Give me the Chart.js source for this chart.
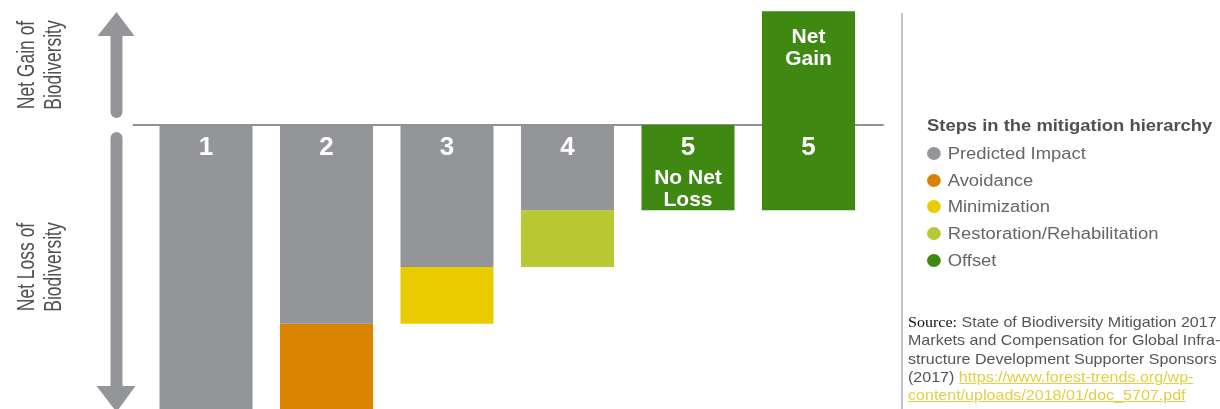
<!DOCTYPE html>
<html>
<head>
<meta charset="utf-8">
<title>Steps in the mitigation hierarchy</title>
<script src="https://cdn.jsdelivr.net/npm/chart.js@4"></script>
<style>
	body { margin: 0; background: #fff; font-family: "Liberation Sans", Arial, sans-serif; }
	#wrap { position: relative; width: 1220px; height: 409px; overflow: hidden; }
	#myChart { position: absolute; left: 0; top: 0; }
	.side { position: absolute; width: 200px; text-align: center; color: #505050;
		font-family: "Liberation Sans Narrow", "Arial Narrow", "Liberation Sans", sans-serif;
		font-size: 23px; line-height: 27px; transform: scaleY(0.76) rotate(-90deg); white-space: nowrap; }
	#sep { position: absolute; left: 901px; top: 13px; width: 2px; height: 400px; background: #c4c4c4; }
	#legend { position: absolute; left: 927px; top: 117px; color: #666; transform: scaleX(1.15); transform-origin: 0 0; }
	#legend .title { font-weight: bold; font-size: 16px; color: #505050; margin-bottom: 6px; white-space: nowrap; }
	#legend .item { font-size: 16px; height: 26.7px; line-height: 26.7px; white-space: nowrap; }
	#legend .dot { display: inline-block; width: 12px; height: 13px; border-radius: 50%; margin: 0 6px 0 0; vertical-align: -1px; }
	#source { position: absolute; left: 908px; top: 313px; font-size: 15px; line-height: 18.3px; color: #555; white-space: nowrap;
		transform: scaleX(1.07); transform-origin: 0 0; }
	#source b { font-family: "Liberation Serif", "Times New Roman", serif; font-weight: normal; color: #111; }
	#source a { color: #e3cf43; text-decoration: underline; }
</style>
</head>
<body>
<div id="wrap">
	<canvas id="myChart" width="1220" height="409"></canvas>
	<div class="side" style="left:-60px; top:38px;">Net Gain of<br>Biodiversity</div>
	<div class="side" style="left:-60px; top:240px;">Net Loss of<br>Biodiversity</div>
	<div id="sep"></div>
	<div id="legend"></div>
	<div id="source"><b>Source:</b> State of Biodiversity Mitigation 2017<br>Markets and Compensation for Global Infra-<br>structure Development Supporter Sponsors<br>(2017) <a href="#">https://www.forest-trends.org/wp-<br>content/uploads/2018/01/doc_5707.pdf</a></div>
</div>

<script>
var Module = (function () {

	//data
	var categories = ['1', '2', '3', '4', '5 No Net Loss', '5 Net Gain'];
	var stepNames = ['Predicted Impact', 'Avoidance', 'Minimization', 'Restoration/Rehabilitation', 'Offset'];
	var stepColors = ['#939598', '#d98300', '#e8cb00', '#b9c934', '#3f8912'];

	// floating bars, [bottom, top] in units of biodiversity (0 = no net loss)
	var predictedImpact = [[-10, 0], [-7, 0], [-5, 0], [-3, 0], null, null];
	var avoidance       = [null, [-10, -7], null, null, null, null];
	var minimization    = [null, null, [-7, -5], null, null, null];
	var restoration     = [null, null, null, [-5, -3], null, null];
	var offset          = [null, null, null, null, [-3, 0], [-3, 4]];

	//text written on the bars
	var barNumbers = ['1', '2', '3', '4', '5', '5'];
	var barNotes = [[], [], [], [], ['No Net', 'Loss'], ['Net', 'Gain']];

	var yMin = -10, yMax = 4.4;

	var $chart = document.getElementById('myChart');
	var ctx = $chart.getContext('2d');
	var myBarChart;

	//zero line + arrows on the left, drawn under the bars
	var decorPlugin = {
		id: 'decor',
		beforeDatasetsDraw: function (chart) {
			var c = chart.ctx, area = chart.chartArea;
			var y0 = chart.scales.y.getPixelForValue(0);
			c.save();
			c.strokeStyle = '#8f9194';
			c.lineWidth = 2;
			c.beginPath();
			c.moveTo(area.left - 13, y0);
			c.lineTo(area.right + 15, y0);
			c.stroke();

			// arrows
			var ax = 116.5;
			c.fillStyle = '#939598';
			c.strokeStyle = '#939598';
			c.lineWidth = 12;
			c.lineCap = 'round';
			c.beginPath();
			c.moveTo(ax, 34);
			c.lineTo(ax, y0 - 13);
			c.moveTo(ax, y0 + 13);
			c.lineTo(ax, 388);
			c.stroke();
			c.beginPath();
			c.moveTo(ax, 12);
			c.lineTo(ax + 18, 36);
			c.lineTo(ax - 19, 36);
			c.closePath();
			c.fill();
			c.beginPath();
			c.moveTo(ax, 412);
			c.lineTo(ax + 19, 386);
			c.lineTo(ax - 20, 386);
			c.closePath();
			c.fill();
			c.restore();
		},
		afterDatasetsDraw: function (chart) {
			var c = chart.ctx;
			var xs = chart.scales.x, ys = chart.scales.y;
			c.save();
			c.fillStyle = '#ffffff';
			c.textAlign = 'center';
			c.textBaseline = 'middle';
			for (var i = 0; i < barNumbers.length; i++) {
				var x = xs.getPixelForValue(i);
				var yNum = ys.getPixelForValue(0) + 23;
				c.font = 'bold 26px "Liberation Sans", Arial, sans-serif';
				c.fillText(barNumbers[i], x, yNum);
				c.font = 'bold 21px "Liberation Sans", Arial, sans-serif';
				var top = offset[i] ? offset[i][1] : 0;
				// notes go at the top of a bar above zero, else under the number
				var yNote = top > 0 ? ys.getPixelForValue(top) + 26 : yNum + 30;
				for (var k = 0; k < barNotes[i].length; k++) {
					c.fillText(barNotes[i][k], x, yNote + k * 22);
				}
			}
			c.restore();
		}
	};

	function buildLegend() {
		var html = '<div class="title">Steps in the mitigation hierarchy</div>';
		for (var i = 0; i < stepNames.length; i++) {
			html += '<div class="item"><span class="dot" style="background:' + stepColors[i] + '"></span>' + stepNames[i] + '</div>';
		}
		document.getElementById('legend').innerHTML = html;
	}

	function getChart() {
		var series = [predictedImpact, avoidance, minimization, restoration, offset];
		var datasets = [];
		for (var i = 0; i < series.length; i++) {
			datasets.push({
				label: stepNames[i],
				data: series[i],
				backgroundColor: stepColors[i],
				borderWidth: 0,
				grouped: false,
				barPercentage: 1,
				categoryPercentage: 0.772
			});
		}

		myBarChart = new Chart(ctx, {
			type: 'bar',
			data: { labels: categories, datasets: datasets },
			options: {
				responsive: false,
				animation: false,
				devicePixelRatio: 1,
				layout: { padding: { left: 145.75, right: 351.25, top: 0, bottom: 0 } },
				plugins: { legend: { display: false }, tooltip: { enabled: false } },
				scales: {
					x: { display: false },
					y: { display: false, min: yMin, max: yMax }
				}
			},
			plugins: [decorPlugin]
		});
	}

	buildLegend();
	getChart();
})();
</script>
</body>
</html>
